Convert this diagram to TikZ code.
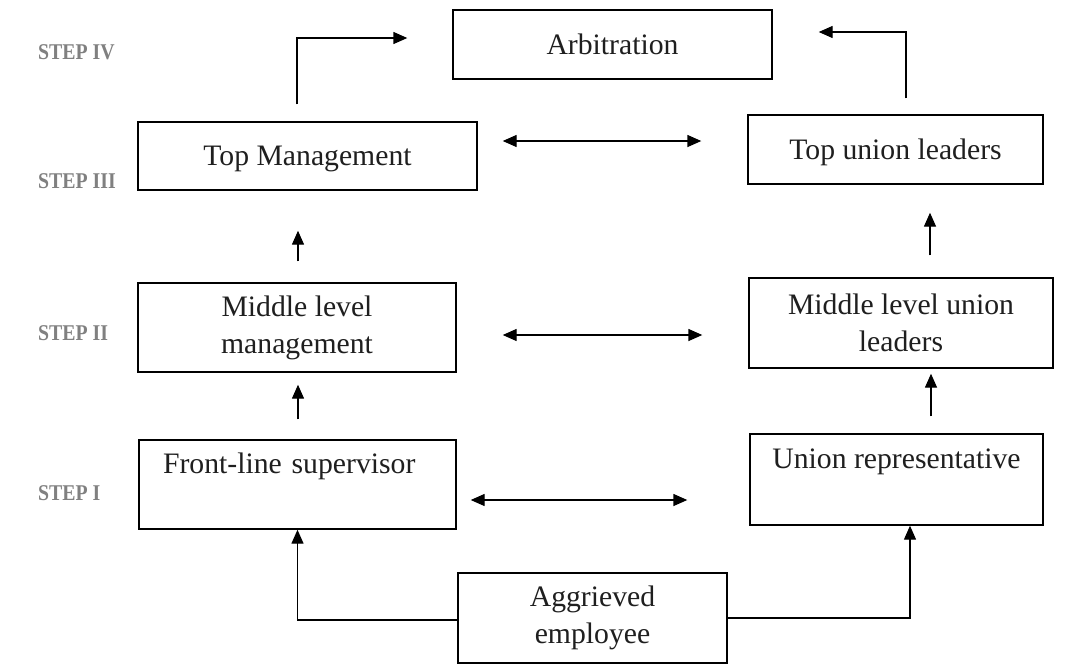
\documentclass[tikz,border=0pt]{standalone}
\usepackage{fontspec}
\setmainfont{Liberation Serif}
\usetikzlibrary{arrows.meta,calc}
\begin{document}
\begin{tikzpicture}[x=1pt,y=-1pt,
  box/.style={draw=black, line width=1.4pt, rectangle, inner sep=0pt,
    font=\fontsize{29.7}{37}\selectfont, text=black!88, align=center},
  one/.style={text height=19.7pt, text depth=0pt},
  arr/.style={line width=1.4pt, -{Triangle[length=14pt,width=12pt]}},
  darr/.style={line width=1.4pt, {Triangle[length=14pt,width=12pt]}-{Triangle[length=14pt,width=12pt]}},
  steplbl/.style={anchor=west, font=\fontsize{22.5}{26}\selectfont\bfseries, text=black!50, inner sep=0pt}
]
\useasboundingbox (0,0) rectangle (1070,665);
\fill[white] (0,0) rectangle (1070,665);

% boxes
\node[box, one, minimum width=319pt, minimum height=69pt] (arb) at (612.5,44.5) {Arbitration};
\node[box, one, minimum width=339pt, minimum height=68pt] (topm) at (307.5,156) {Top Management};
\node[box, one, minimum width=295pt, minimum height=69pt] (topu) at (895.5,149.5) {Top union leaders};
\node[box, minimum width=318pt, minimum height=89pt] (midm) at (297,327.5) {Middle level\\management};
\node[box, minimum width=304pt, minimum height=90pt] (midu) at (901,323) {Middle level union\\leaders};
\node[box, one, text depth=42pt, text width=269pt, align=left, inner xsep=24pt, minimum height=89pt] (front) at (297.5,484.5) {Front-line supervisor};
\node[box, one, text depth=42pt, minimum width=293pt, minimum height=91pt] (urep) at (896.5,479.5) {Union representative};
\node[box, minimum width=269pt, minimum height=90pt] (agg) at (592.5,618) {Aggrieved\\employee};

% step labels
\node[steplbl] (s4) at (38,52) {\scalebox{0.88}[1]{STEP IV}};
\node[steplbl] (s3) at (38,181) {\scalebox{0.88}[1]{STEP III}};
\node[steplbl] (s2) at (38,333) {\scalebox{0.88}[1]{STEP II}};
\node[steplbl] (s1) at (38,493) {\scalebox{0.88}[1]{STEP I}};

% to arbitration
\draw[arr] ($(topm.north)+(-10.5,-17)$) |- ($(arb.west)+(-45,-6.5)$);
\draw[arr] ($(topu.north)+(10.5,-16)$) |- ($(arb.east)+(46,-12.5)$);

% double arrows
\draw[darr] ($(topm.east)+(25,-15)$) -- ($(topu.west)+(-46,-8.5)$);
\draw[darr] ($(midm.east)+(46,7.5)$) -- ($(midu.west)+(-46,12)$);
\draw[darr] ($(front.east)+(14,15.5)$) -- ($(urep.west)+(-62,20.5)$);

% vertical arrows
\draw[arr] ($(midm.north)+(1,-21)$) -- ($(topm.south)+(-9.5,40)$);
\draw[arr] ($(front.north)+(0.5,-20)$) -- ($(midm.south)+(1,12)$);
\draw[arr] ($(midu.north)+(29,-22)$) -- ($(topu.south)+(34.5,28)$);
\draw[arr] ($(urep.north)+(34.5,-17)$) -- ($(midu.south)+(30,5)$);

% from aggrieved employee
\draw[arr] ($(agg.west)+(0,2)$) -| (front.south);
\draw[arr] (agg.east) -| ($(urep.south)+(13.5,0)$);
\end{tikzpicture}
\end{document}
